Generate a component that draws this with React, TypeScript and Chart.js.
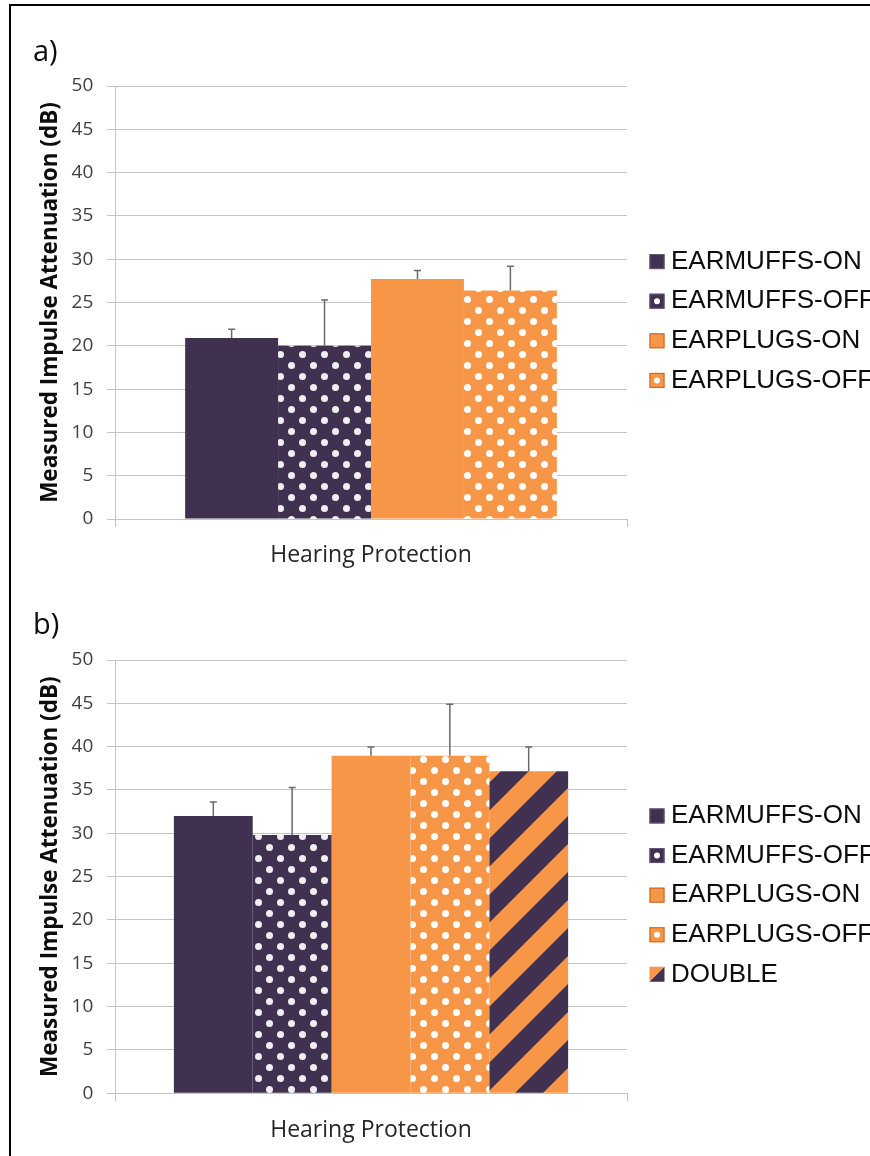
import React, { useEffect, useRef } from 'react';
import { Chart, registerables } from 'chart.js';

Chart.register(...registerables);

// ---------- data ----------
const categories = [''];
const xAxisTitle = 'Hearing Protection';
const yAxisTitle = 'Measured Impulse Attenuation (dB)';
const yMin = 0;
const yMax = 50;
const yStep = 5;

const seriesA = ['EARMUFFS-ON', 'EARMUFFS-OFF', 'EARPLUGS-ON', 'EARPLUGS-OFF'];
const valuesA = [20.9, 20.0, 27.7, 26.4];
const errorsA = [1.0, 5.3, 1.0, 2.8];

const seriesB = ['EARMUFFS-ON', 'EARMUFFS-OFF', 'EARPLUGS-ON', 'EARPLUGS-OFF', 'DOUBLE'];
const valuesB = [32.0, 29.8, 38.95, 38.95, 37.15];
const errorsB = [1.6, 5.5, 1.0, 5.95, 2.8];

// ---------- styles ----------
const PURPLE = '#403151';
const ORANGE = '#F79646';
const GRID = '#c4c4c4';
const ERR = '#6b6b6b';

type Kind = 'solid' | 'dots' | 'stripes';
const seriesStyle: Record<string, { base: string; kind: Kind; dot?: string; edge: string }> = {
  'EARMUFFS-ON': { base: PURPLE, kind: 'solid', edge: '#65557a' },
  'EARMUFFS-OFF': { base: PURPLE, kind: 'dots', dot: '#f0eff2', edge: '#65557a' },
  'EARPLUGS-ON': { base: ORANGE, kind: 'solid', edge: '#c4652a' },
  'EARPLUGS-OFF': { base: ORANGE, kind: 'dots', dot: '#ffffff', edge: '#c4652a' },
  DOUBLE: { base: ORANGE, kind: 'stripes', edge: '#c4652a' },
};

function makeFill(ctx: CanvasRenderingContext2D, name: string): any {
  const st = seriesStyle[name];
  if (st.kind === 'solid') return st.base;
  const tile = document.createElement('canvas');
  if (st.kind === 'dots') {
    const P = 22;
    tile.width = P;
    tile.height = P;
    const t = tile.getContext('2d')!;
    t.fillStyle = st.base;
    t.fillRect(0, 0, P, P);
    t.fillStyle = st.dot!;
    for (const [cx, cy] of [[5.5, 5.5], [16.5, 16.5]]) {
      t.beginPath();
      t.arc(cx, cy, 3.5, 0, Math.PI * 2);
      t.fill();
    }
  } else {
    const P = 56;
    tile.width = P;
    tile.height = P;
    const t = tile.getContext('2d')!;
    t.fillStyle = ORANGE;
    t.fillRect(0, 0, P, P);
    t.fillStyle = PURPLE;
    t.beginPath();
    t.moveTo(0, 0);
    t.lineTo(P / 2, 0);
    t.lineTo(0, P / 2);
    t.closePath();
    t.fill();
    t.beginPath();
    t.moveTo(P, 0);
    t.lineTo(P, P / 2);
    t.lineTo(P / 2, P);
    t.lineTo(0, P);
    t.closePath();
    t.fill();
  }
  return ctx.createPattern(tile, 'repeat');
}

function drawSwatch(ctx: CanvasRenderingContext2D, name: string, x: number, y: number, s: number) {
  const st = seriesStyle[name];
  ctx.save();
  if (st.kind === 'stripes') {
    ctx.fillStyle = ORANGE;
    ctx.beginPath();
    ctx.moveTo(x, y);
    ctx.lineTo(x + s, y);
    ctx.lineTo(x, y + s);
    ctx.closePath();
    ctx.fill();
    ctx.fillStyle = PURPLE;
    ctx.beginPath();
    ctx.moveTo(x + s, y);
    ctx.lineTo(x + s, y + s);
    ctx.lineTo(x, y + s);
    ctx.closePath();
    ctx.fill();
  } else {
    ctx.fillStyle = st.base;
    ctx.fillRect(x, y, s, s);
    ctx.strokeStyle = st.edge;
    ctx.lineWidth = 1;
    ctx.strokeRect(x + 0.5, y + 0.5, s - 1, s - 1);
    if (st.kind === 'dots') {
      ctx.fillStyle = '#ffffff';
      ctx.beginPath();
      ctx.arc(x + s / 2, y + s / 2, 3, 0, Math.PI * 2);
      ctx.fill();
    }
  }
  ctx.restore();
}

interface PanelProps {
  series: string[];
  values: number[];
  errors: number[];
  top: number;
  height: number;
  pad: { top: number; bottom: number; left: number; right: number };
  xAxisHeight: number;
  catPct: number;
}

function Panel(props: PanelProps) {
  const ref = useRef<HTMLCanvasElement | null>(null);
  useEffect(() => {
    const canvas = ref.current!;
    const ctx = canvas.getContext('2d')!;
    const { series, values, errors } = props;

    const errorBars = {
      id: 'errorBars',
      afterDatasetsDraw(chart: any) {
        const c = chart.ctx;
        const ys = chart.scales.y;
        c.save();
        c.strokeStyle = ERR;
        c.lineWidth = 1.5;
        series.forEach((_, i) => {
          const meta = chart.getDatasetMeta(i);
          const bar = meta.data[0];
          if (!bar) return;
          const x = bar.x;
          const yb = ys.getPixelForValue(values[i]);
          const yt = ys.getPixelForValue(values[i] + errors[i]);
          c.beginPath();
          c.moveTo(x, yb);
          c.lineTo(x, yt);
          c.moveTo(x - 3.5, yt);
          c.lineTo(x + 3.5, yt);
          c.stroke();
        });
        c.restore();
      },
    };

    const legend = {
      id: 'sideLegend',
      afterDraw(chart: any) {
        const c = chart.ctx;
        const ca = chart.chartArea;
        const n = series.length;
        const spacing = 39.6;
        const cy = (ca.top + ca.bottom) / 2 + 18.5;
        const y0 = cy - ((n - 1) / 2) * spacing;
        c.save();
        c.font = '26px "Liberation Sans", Arial, sans-serif';
        c.fillStyle = '#0d0d0d';
        c.textBaseline = 'middle';
        c.textAlign = 'left';
        series.forEach((name, i) => {
          const y = y0 + i * spacing;
          drawSwatch(c, name, ca.right + 22.5, y - 7.5, 15);
          c.fillText(name, ca.right + 44, y);
        });
        c.restore();
      },
    };

    const chart = new Chart(canvas, {
      type: 'bar',
      data: {
        labels: categories,
        datasets: series.map((name, i) => ({
          label: name,
          data: [values[i]],
          backgroundColor: makeFill(ctx, name),
          borderWidth: 0,
          barPercentage: 1,
          categoryPercentage: props.catPct,
        })),
      },
      options: {
        animation: false,
        responsive: false,
        maintainAspectRatio: false,
        layout: { padding: props.pad },
        plugins: { legend: { display: false }, tooltip: { enabled: false } },
        scales: {
          x: {
            offset: true,
            ticks: { display: false },
            grid: {
              display: true,
              drawOnChartArea: false,
              drawTicks: true,
              tickLength: 8,
              offset: true,
              color: GRID,
              tickColor: GRID,
            },
            border: { display: true, color: GRID, width: 1 },
            title: {
              display: true,
              text: xAxisTitle,
              color: '#262626',
              font: { family: '"Open Sans", sans-serif', size: 23 },
              padding: { top: 14, bottom: 0 },
            },
            afterFit: (s: any) => {
              s.height = props.xAxisHeight;
            },
          },
          y: {
            min: yMin,
            max: yMax,
            ticks: {
              stepSize: yStep,
              padding: 13.7,
              color: '#404040',
              font: { family: '"Open Sans", sans-serif', size: 19 },
            },
            grid: { color: GRID, tickColor: GRID, tickLength: 8, lineWidth: 1 },
            border: { display: true, color: GRID, width: 1 },
            title: {
              display: true,
              text: yAxisTitle,
              color: '#0d0d0d',
              font: { family: '"Open Sans", sans-serif', size: 22.5, weight: 'bold' },
              padding: { top: 27.5, bottom: 0 },
            },
            afterFit: (s: any) => {
              s.width = 105;
            },
          },
        },
      },
      plugins: [errorBars, legend],
    } as any);
    return () => chart.destroy();
  }, []);
  return (
    <canvas
      ref={ref}
      width={870}
      height={props.height}
      style={{ position: 'absolute', left: 0, top: props.top, width: 870, height: props.height }}
    />
  );
}

const panelLabel: React.CSSProperties = {
  position: 'absolute',
  fontFamily: '"Open Sans", sans-serif',
  fontSize: 29,
  lineHeight: '29px',
  color: '#0d0d0d',
  whiteSpace: 'nowrap',
};

export default function App() {
  return (
    <div
      style={{
        position: 'absolute',
        left: 0,
        top: 0,
        width: 870,
        height: 1156,
        overflow: 'hidden',
        background: '#ffffff',
      }}
    >
      <div
        style={{
          position: 'absolute',
          left: 9,
          top: 4,
          width: 900,
          height: 1200,
          borderLeft: '2px solid #000',
          borderTop: '2px solid #000',
          boxSizing: 'border-box',
        }}
      />
      <Panel
        series={seriesA}
        values={valuesA}
        errors={errorsA}
        top={30}
        height={560}
        pad={{ top: 56, bottom: 21.2, left: 10, right: 243 }}
        xAxisHeight={49.8}
        catPct={0.726}
      />
      <Panel
        series={seriesB}
        values={valuesB}
        errors={errorsB}
        top={600}
        height={556}
        pad={{ top: 60, bottom: 12.2, left: 10, right: 243 }}
        xAxisHeight={50.5}
        catPct={0.77}
      />
      <div style={{ ...panelLabel, left: 33, top: 35 }}>a)</div>
      <div style={{ ...panelLabel, left: 33, top: 607.5 }}>b)</div>
    </div>
  );
}
